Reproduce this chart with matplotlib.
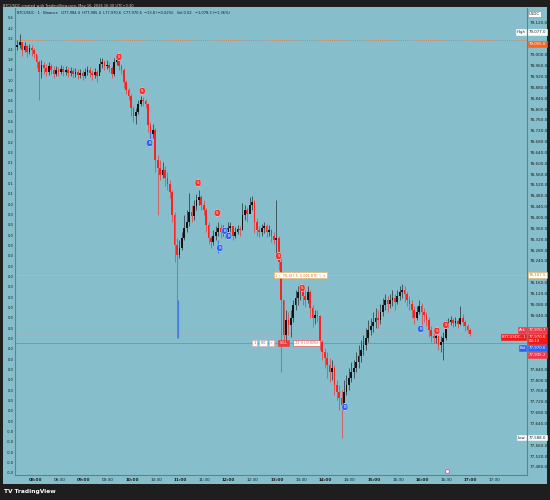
import matplotlib.pyplot as plt
import numpy as np
from matplotlib.ticker import FixedLocator, FuncFormatter

# 3 minute candles, time in minutes after midnight
start_minute = 458
step_minutes = 3
first_open = 79030

closes = [79037, 79048, 79018, 79033, 79011, 79026, 79018, 79004, 78974, 78937,
          78963, 78952, 78937, 78959, 78945, 78930, 78945, 78937, 78948, 78937,
          78945, 78934, 78941, 78930, 78937, 78926, 78934, 78923, 78937, 78945,
          78934, 78926, 78937, 78923, 78967, 78974, 78959, 78963, 78952, 78930,
          78974, 78982, 78959, 78945, 78900, 78871, 78849, 78804, 78775, 78790,
          78819, 78834, 78830, 78819, 78742, 78708, 78723, 78613, 78583, 78557,
          78576, 78546, 78524, 78494, 78410, 78299, 78262, 78288, 78325, 78362,
          78384, 78421, 78406, 78443, 78465, 78476, 78446, 78428, 78373, 78325,
          78310, 78332, 78347, 78362, 78347, 78354, 78343, 78362, 78369, 78332,
          78347, 78358, 78354, 78410, 78428, 78413, 78446, 78458, 78384, 78354,
          78347, 78362, 78369, 78347, 78354, 78332, 78317, 78325, 78236, 78096,
          77967, 78022, 78004, 78030, 78077, 78103, 78125, 78133, 78111, 78096,
          78125, 78066, 78030, 78041, 78037, 77941, 77904, 77882, 77856, 77830,
          77845, 77782, 77756, 77734, 77708, 77756, 77782, 77808, 77830, 77845,
          77867, 77889, 77911, 77930, 77956, 77985, 78000, 78015, 78030, 78022,
          78052, 78077, 78096, 78081, 78096, 78103, 78089, 78111, 78125, 78133,
          78118, 78096, 78081, 78059, 78030, 78052, 78074, 78052, 78041, 78022,
          77985, 77963, 77956, 77963, 77930, 77941, 77956, 78004, 78015, 78022,
          78011, 78018, 78007, 78030, 78015, 78000, 77985, 77970]

highs = [79055, 79077, 79041, 79048, 79037, 79041, 79037, 79026, 79000, 78982,
         78982, 78974, 78967, 78974, 78967, 78959, 78959, 78956, 78963, 78959,
         78959, 78956, 78956, 78952, 78952, 78948, 78948, 78945, 78952, 78959,
         78956, 78945, 78952, 78945, 78989, 78989, 78982, 78982, 78974, 78959,
         78989, 78996, 78989, 78967, 78952, 78908, 78878, 78856, 78812, 78804,
         78834, 78849, 78845, 78838, 78823, 78753, 78745, 78731, 78631, 78613,
         78605, 78590, 78568, 78539, 78502, 78421, 78325, 78317, 78347, 78410,
         78428, 78491, 78446, 78465, 78487, 78502, 78483, 78465, 78435, 78384,
         78332, 78354, 78369, 78384, 78376, 78373, 78365, 78384, 78384, 78362,
         78365, 78373, 78369, 78454, 78446, 78439, 78476, 78480, 78465, 78399,
         78369, 78376, 78384, 78376, 78373, 78358, 78347, 78465, 78332, 78251,
         78096, 78059, 78052, 78059, 78096, 78133, 78148, 78148, 78144, 78133,
         78148, 78133, 78077, 78059, 78059, 78041, 77948, 77919, 77904, 77882,
         77875, 77856, 77801, 77782, 77764, 77801, 77819, 77845, 77867, 77875,
         77904, 77930, 77948, 77967, 77993, 78022, 78030, 78052, 78066, 78059,
         78081, 78103, 78118, 78111, 78118, 78133, 78118, 78133, 78148, 78155,
         78148, 78125, 78111, 78096, 78074, 78074, 78096, 78085, 78066, 78052,
         78033, 78000, 77993, 77978, 77963, 77963, 77978, 78022, 78030, 78037,
         78030, 78033, 78026, 78074, 78044, 78022, 78007, 77993]

lows = [79018, 79026, 78996, 79011, 78993, 79004, 78996, 78989, 78952, 78834,
        78915, 78930, 78923, 78926, 78930, 78915, 78923, 78923, 78930, 78923,
        78926, 78919, 78923, 78915, 78919, 78911, 78915, 78908, 78915, 78926,
        78919, 78908, 78915, 78900, 78937, 78952, 78945, 78948, 78937, 78915,
        78923, 78963, 78945, 78930, 78878, 78856, 78834, 78775, 78753, 78745,
        78782, 78812, 78812, 78804, 78716, 78679, 78694, 78568, 78410, 78539,
        78546, 78517, 78502, 78472, 78384, 78236, 77956, 78251, 78280, 78317,
        78347, 78369, 78384, 78391, 78428, 78446, 78428, 78410, 78347, 78303,
        78288, 78299, 78317, 78332, 78325, 78332, 78325, 78340, 78347, 78317,
        78325, 78340, 78332, 78354, 78391, 78384, 78417, 78428, 78343, 78332,
        78328, 78332, 78343, 78328, 78332, 78310, 78303, 78251, 78207, 77830,
        77930, 77948, 77967, 77959, 78015, 78059, 78077, 78096, 78077, 78070,
        78085, 78030, 77996, 78007, 78015, 77911, 77875, 77845, 77808, 77793,
        77801, 77745, 77727, 77690, 77588, 77690, 77745, 77764, 77793, 77808,
        77830, 77845, 77867, 77893, 77911, 77941, 77967, 77978, 77993, 77993,
        78007, 78037, 78059, 78052, 78066, 78074, 78059, 78081, 78096, 78103,
        78089, 78074, 78059, 78030, 78007, 78022, 78044, 77996, 78015, 78000,
        77959, 77941, 77937, 77937, 77911, 77904, 77875, 77948, 77996, 78004,
        77996, 78000, 77993, 78004, 78000, 77982, 77974, 77963]

# signal labels (minute, price)
sell_t = [584, 613, 682, 706, 782, 811, 978, 989]
sell_p = [78993, 78867, 78528, 78417, 78258, 78140, 77982, 78004]
buy_t = [622, 709, 715, 720, 864, 958]
buy_p = [78675, 78288, 78351, 78332, 77701, 77989]

# lines / price levels
day_open_level = 79055
order_level = 78187.5
position_level = 77937
ask_price = 77970.7
last_price = 77970.6
bid_price = 77970.6
mark_price = 77935.2

left_scale = (["5.6", "4.2", "3.2", "2.4", "1.8", "1.4", "1.0", "0.8", "0.6",
               "0.5", "0.4", "0.3", "0.2", "0.2", "0.1", "0.1", "0.1", "0.1"]
              + ["0.0"] * 22 + ["-0.0"] * 5)

time_ticks = list(range(480, 1051, 30))

TEAL = '#86bfcb'
DARK = '#1e1e1e'
SPINE = '#5a858e'
RED = '#ff2020'
UP = '#141414'


def hhmm(v, pos=None):
    return f"{int(v) // 60:02d}:{int(v) % 60:02d}"


def right_label(ax, text, price, fc, tc='white', ec=None, left=False):
    ax.annotate(text, xy=(1.0, price), xycoords=ax.get_yaxis_transform(),
                xytext=(-1 if left else 1.5, 0), textcoords='offset points',
                ha='right' if left else 'left', va='center', fontsize=2.8,
                color=tc, annotation_clip=False, zorder=6, linespacing=1.0,
                bbox=dict(boxstyle='square,pad=0.2', fc=fc, ec=ec or fc, lw=0.4))


def draw_chart():
    fig = plt.figure(figsize=(5.5, 5), dpi=100, facecolor=DARK)
    # teal panel behind chart + scales
    bg = fig.add_axes([3 / 550, 16 / 500, 544 / 550, 477 / 500], zorder=-5)
    bg.set_facecolor(TEAL)
    bg.set_xticks([])
    bg.set_yticks([])
    for s in bg.spines.values():
        s.set_visible(False)

    ax = fig.add_axes([15 / 550, 25 / 500, 512 / 550, 467 / 500], facecolor=TEAL)
    # left percentage scale (twinx first: it resets the main ticks to the left)
    ax2 = ax.twinx()
    ax.set_xlim(455.2, 1089.7)
    ax.set_ylim(77450, 79173)

    t = start_minute + step_minutes * np.arange(len(closes))
    c = np.array(closes, dtype=float)
    o = np.array([first_open] + closes[:-1], dtype=float)
    colors = np.where(c >= o, UP, RED)

    ax.vlines(t, lows, highs, colors=colors, lw=0.7, alpha=0.6, zorder=3)
    body = np.maximum(np.abs(c - o), 2.5)
    ax.bar(t, body, bottom=np.minimum(o, c), width=2.1, color=colors, lw=0, zorder=4)

    # blue indicator strokes
    ax.vlines([657, 707, 622], [77956, 78269, 78675], [78096, 78317, 78720],
              colors='#3a6cf0', lw=0.9, alpha=0.8, zorder=4)

    # horizontal levels
    ax.axhline(day_open_level, color='#e8703a', lw=0.6, ls=(0, (1, 1.5)), zorder=2)
    ax.axhline(order_level, color='#eab04a', lw=0.6, zorder=2)
    ax.axhline(position_level, color='#d7607a', lw=0.5, zorder=2)
    ax.axhline(ask_price, color='#c9a0a8', lw=0.3, zorder=2)

    for tt, pp in zip(sell_t, sell_p):
        ax.text(tt, pp, "S", fontsize=2.8, color='white', ha='center', va='center', zorder=7,
                bbox=dict(boxstyle='round,pad=0.45,rounding_size=1.0', fc='#f23030', ec='#ffb0b0', lw=0.3))
    for tt, pp in zip(buy_t, buy_p):
        ax.text(tt, pp, "B", fontsize=2.8, color='white', ha='center', va='center', zorder=7,
                bbox=dict(boxstyle='round,pad=0.45,rounding_size=1.0', fc='#2f64e8', ec='#b0c8ff', lw=0.3))

    # order / position boxes on the lines
    ax.text(809, order_level, "1  |  78,187.5  0.001 BTC  |  \u00d7", fontsize=2.4, color='#e07a20',
            ha='center', va='center', zorder=7,
            bbox=dict(boxstyle='square,pad=0.4', fc='white', ec='#eab04a', lw=0.4))
    for tt, txt, tc in [(752, "1", '#d33'), (763, "0.0", '#2f64e8'), (773, "\u00d7", '#e07a20')]:
        ax.text(tt, position_level, txt, fontsize=2.4, color=tc, ha='center', va='center', zorder=7,
                bbox=dict(boxstyle='square,pad=0.4', fc='white', ec='#e0a0a8', lw=0.4))
    ax.text(788, position_level, "SELL", fontsize=2.4, color='white', ha='center', va='center', zorder=7,
            bbox=dict(boxstyle='square,pad=0.4', fc='#f03a3a', ec='#f03a3a', lw=0.4))
    ax.text(816, position_level, "-22.9 (-0.03%)", fontsize=2.4, color='#f03a3a', ha='center',
            va='center', zorder=7,
            bbox=dict(boxstyle='square,pad=0.4', fc='white', ec='#f03a3a', lw=0.4))

    ax.plot([990], [77466], 'o', ms=3, mfc='white', mec='#e060c0', mew=0.8, zorder=7, clip_on=False)

    # right scale labels: (text, price, face, text colour, edge, left of axis)
    high = max(highs)
    low = min(lows)
    labels = [
        ("USDC", 79150, 'white', '#222', '#888', False),
        (f"{high:,.1f}", high + 8, 'white', '#222', None, False),
        ("High", high + 8, 'white', '#222', None, True),
        (f"{day_open_level:,.1f}", day_open_level - 14, '#f26522', 'white', None, False),
        (f"{order_level:,.1f}", order_level, 'white', '#e07a20', '#eab04a', False),
        (f"{ask_price:,.1f}", ask_price + 15, '#f23645', 'white', None, False),
        ("Ask", ask_price + 15, '#f23645', 'white', None, True),
        (f"{last_price:,.1f}\n00:13", last_price - 18, '#f01818', 'white', None, False),
        ("BTCUSDC, 1", last_price - 12, '#f01818', 'white', None, True),
        (f"{bid_price:,.1f}", bid_price - 52, '#2962ff', 'white', None, False),
        ("Bid", bid_price - 52, '#2962ff', 'white', None, True),
        (f"{mark_price:,.1f}", mark_price - 42, '#f23645', 'white', None, False),
        (f"{low:,.1f}", low, 'white', '#222', None, False),
        ("Low", low, 'white', '#222', None, True),
    ]
    for text, price, fc, tc, ec, left in labels:
        right_label(ax, text, price, fc, tc, ec, left)

    # right price scale, hiding ticks covered by the labels
    label_prices = [p for _, p, _, _, _, left in labels if not left]
    ticks = [v for v in np.arange(77480, 79121, 40)
             if min(abs(v - p) for p in label_prices) > 18]
    ax.yaxis.tick_right()
    ax.yaxis.set_major_locator(FixedLocator(ticks))
    ax.yaxis.set_major_formatter(FuncFormatter(lambda v, p: f"{v:,.1f}"))
    ax.tick_params(axis='y', length=0, pad=2, labelsize=3.0, labelcolor='#1a1a1a')

    # time scale
    ax.xaxis.set_major_locator(FixedLocator(time_ticks))
    ax.xaxis.set_major_formatter(FuncFormatter(hhmm))
    ax.tick_params(axis='x', length=0, pad=2, labelsize=3.0, labelcolor='#1a1a1a')
    for lbl, v in zip(ax.get_xticklabels(), time_ticks):
        if v % 60 == 0:
            lbl.set_fontweight('bold')

    for side in ['left', 'right', 'bottom']:
        ax.spines[side].set_color(SPINE)
        ax.spines[side].set_linewidth(0.8)
    ax.spines['top'].set_visible(False)

    ax2.set_ylim(0, 1)
    ax2.yaxis.tick_left()
    ax2.yaxis.set_major_locator(FixedLocator(np.linspace(0.9786, 0.0043, len(left_scale))))
    ax2.set_yticklabels(left_scale)
    ax2.tick_params(axis='y', length=0, pad=1.0, labelsize=2.6, labelcolor='#1a1a1a')
    for s in ax2.spines.values():
        s.set_visible(False)

    fig.text(0.006, 0.993, "BTCUSDC created with TradingView.com, May 16, 2026 16:30 UTC+3:30",
             fontsize=2.6, color='#cfcfcf', va='top')
    ax.text(0.004, 0.993, "BTCUSDC \u00b7 1 \u00b7 Binance   O77,984.4  H77,985.4  L77,970.6  C77,970.6"
            "  \u221213.8 (\u22120.02%)   Vol 0.02   \u22121,078.3 (\u22121.36%)",
            transform=ax.transAxes, fontsize=2.6, color='#1a1a1a', va='top', ha='left')
    fig.text(0.008, 0.016, "\u0054\u0056 TradingView", fontsize=4.2, color='white',
             fontweight='bold', va='center')

    fig.savefig("out.png", dpi=100, facecolor=DARK)


if __name__ == '__main__':
    draw_chart()
